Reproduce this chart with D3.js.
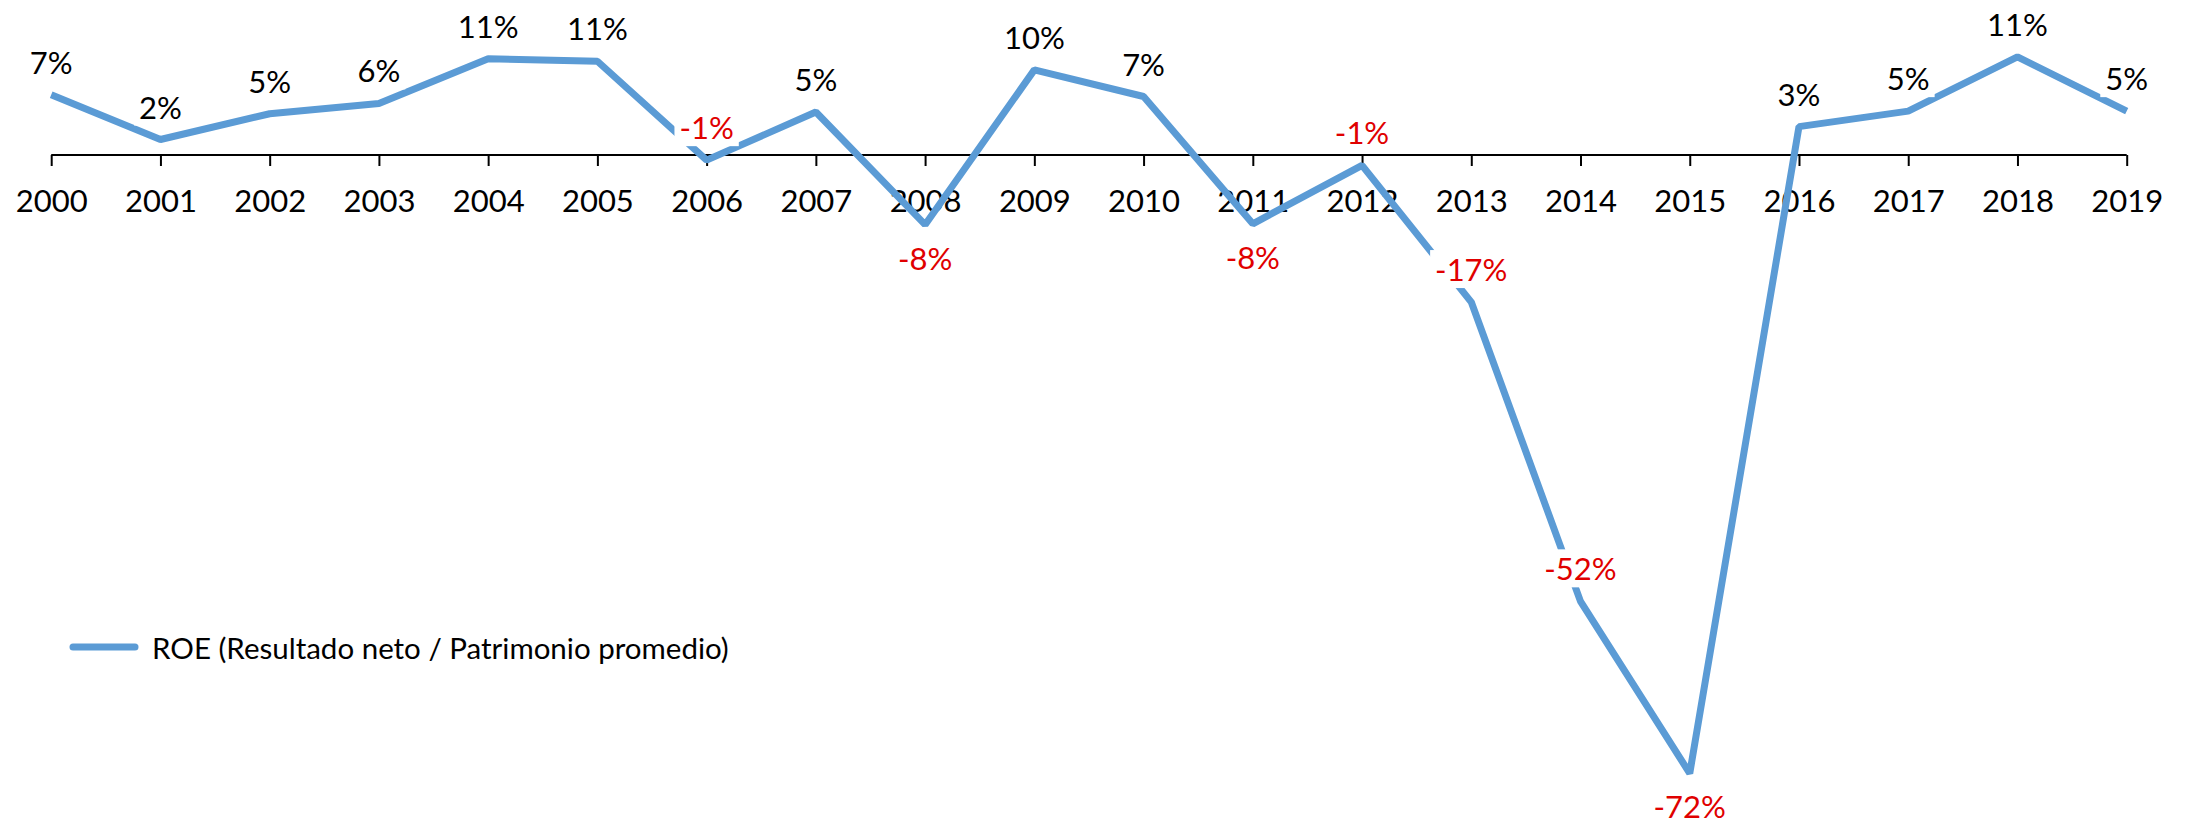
<!DOCTYPE html>
<html>
<head>
<meta charset="utf-8">
<script src="https://cdn.jsdelivr.net/npm/d3@7"></script>
<style>
  html, body { margin: 0; padding: 0; background: #fff; }
  svg { display: block; }
  text { font-family: Lato, "Open Sans", sans-serif; }
</style>
</head>
<body>
<svg id="chart" width="2190" height="827"></svg>
<script>
// ---- data ----
const years = ["2000","2001","2002","2003","2004","2005","2006","2007","2008","2009",
               "2010","2011","2012","2013","2014","2015","2016","2017","2018","2019"];
const roe = [7.0, 1.8, 4.8, 6.0, 11.2, 10.9, -0.6, 5.0, -8.1, 9.9,
             6.8, -8.0, -1.2, -17.1, -51.9, -71.9, 3.3, 5.1, 11.4, 5.1];
const labelsBelow = ["2008", "2011", "2015"];
const seriesName = "ROE (Resultado neto / Patrimonio promedio)";

// ---- layout ----
const svg = d3.select("#chart");
const lineColor = "#5B9BD5";
const negColor = "#E00000";

const x = d3.scalePoint().domain(years).range([51.2, 2126.7]);
const y = d3.scaleLinear().domain([-80, 15]).range([843, 26]);

const data = years.map((yr, i) => ({ year: yr, value: roe[i] }));

// axis at zero
const axis = d3.axisBottom(x).tickSize(11).tickSizeOuter(0).tickPadding(24);
const gAxis = svg.append("g")
  .attr("transform", `translate(0,${y(0)})`)
  .call(axis);
gAxis.select(".domain").attr("stroke", "#000").attr("stroke-width", 2.2)
  .attr("d", `M${x(years[0])},0H${x(years[years.length-1])}`);
gAxis.selectAll(".tick line").attr("stroke", "#000").attr("stroke-width", 2);
gAxis.selectAll(".tick text")
  .attr("fill", "#000")
  .style("font-size", "31px")
  .style("font-family", "Lato, 'Open Sans', sans-serif");

// line
const line = d3.line().x(d => x(d.year)).y(d => y(d.value));
svg.append("path")
  .datum(data)
  .attr("d", line)
  .attr("fill", "none")
  .attr("stroke", lineColor)
  .attr("stroke-width", 7)
  .attr("stroke-linejoin", "bevel")
  .attr("stroke-linecap", "butt");

// data labels
const fmt = v => Math.round(v) + "%";
const gLab = svg.append("g");
data.forEach(d => {
  const below = labelsBelow.includes(d.year);
  const cx = x(d.year);
  const cy = y(d.value) + (below ? 33 : -33);
  const g = gLab.append("g");
  const rect = g.append("rect").attr("fill", "#fff");
  const t = g.append("text")
    .attr("x", cx)
    .attr("y", cy)
    .attr("text-anchor", "middle")
    .attr("dominant-baseline", "central")
    .attr("fill", d.value < 0 ? negColor : "#000")
    .style("font-size", "31px")
    .text(fmt(d.value));
  const bb = t.node().getBBox();
  rect.attr("x", bb.x - 5).attr("y", cy - 19)
      .attr("width", bb.width + 10).attr("height", 38);
});

// legend
const leg = svg.append("g");
leg.append("line")
  .attr("x1", 73).attr("x2", 135)
  .attr("y1", 647).attr("y2", 647)
  .attr("stroke", lineColor)
  .attr("stroke-width", 7)
  .attr("stroke-linecap", "round");
const lt = leg.append("text")
  .attr("x", 152).attr("y", 647)
  .attr("dominant-baseline", "central")
  .attr("fill", "#000")
  .style("font-size", "42px")
  .text(seriesName);
// fit legend text to reference width
const target = 577;
const w0 = lt.node().getComputedTextLength();
if (w0 > 0) lt.style("font-size", (42 * target / w0).toFixed(1) + "px");
</script>
</body>
</html>
